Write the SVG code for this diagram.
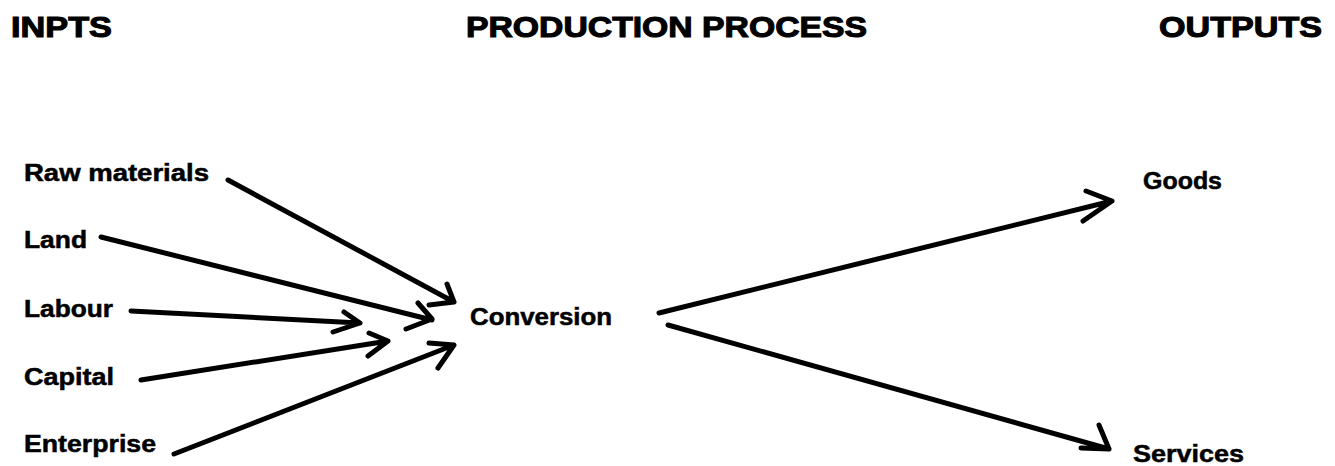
<svg xmlns="http://www.w3.org/2000/svg" width="1335" height="466" viewBox="0 0 1335 466">
<style>
.h{font-family:"Liberation Sans",Arial,sans-serif;font-weight:bold;font-size:30px;fill:#000;stroke:#000;stroke-width:1.1}
.t{font-family:"Liberation Sans",Arial,sans-serif;font-weight:bold;font-size:23px;fill:#000;stroke:#000;stroke-width:0.5}
.c{fill:none;stroke:#000;stroke-width:5;stroke-linecap:round;stroke-linejoin:round}
</style>
<rect width="1335" height="466" fill="#fff"/>
<g id="headers">
<text class="h" x="11" y="37" textLength="101" lengthAdjust="spacingAndGlyphs">INPTS</text>
<text class="h" x="466" y="37" textLength="401" lengthAdjust="spacingAndGlyphs">PRODUCTION PROCESS</text>
<text class="h" x="1159" y="37" textLength="163" lengthAdjust="spacingAndGlyphs">OUTPUTS</text>
</g>
<g id="raw"><text class="t" x="24" y="181" textLength="185" lengthAdjust="spacingAndGlyphs">Raw materials</text></g>
<g id="land"><text class="t" x="24" y="248" textLength="63" lengthAdjust="spacingAndGlyphs">Land</text></g>
<g id="labour"><text class="t" x="24" y="317" textLength="89" lengthAdjust="spacingAndGlyphs">Labour</text></g>
<g id="capital"><text class="t" x="24" y="385" textLength="90" lengthAdjust="spacingAndGlyphs">Capital</text></g>
<g id="enterprise"><text class="t" x="24" y="452" textLength="132" lengthAdjust="spacingAndGlyphs">Enterprise</text></g>
<g id="conversion"><text class="t" x="470" y="325" textLength="142" lengthAdjust="spacingAndGlyphs">Conversion</text></g>
<g id="goods"><text class="t" x="1143" y="189" textLength="79" lengthAdjust="spacingAndGlyphs">Goods</text></g>
<g id="services"><text class="t" x="1133" y="462" textLength="111" lengthAdjust="spacingAndGlyphs">Services</text></g>
<g id="connectors">
<path class="c" d="M228,180 L454,302 M447,284 L454,302 L429,305"/>
<path class="c" d="M101,237 L432,320 M418,303 L432,319 L406,329"/>
<path class="c" d="M131,311 L360,323 M344,312 L360,323 L333,332"/>
<path class="c" d="M141,380 L388,341 M369,333 L388,341 L368,356"/>
<path class="c" d="M174,454 L454,345 M429,343 L454,345 L438,368"/>
<path class="c" stroke-width="4.5" d="M659,313 L1112,201 M1086,191 L1112,201 L1083,221"/>
<path class="c" stroke-width="4.5" d="M668,325 L1109,449 M1099,425 L1109,449 L1081,448"/>
</g>
</svg>
